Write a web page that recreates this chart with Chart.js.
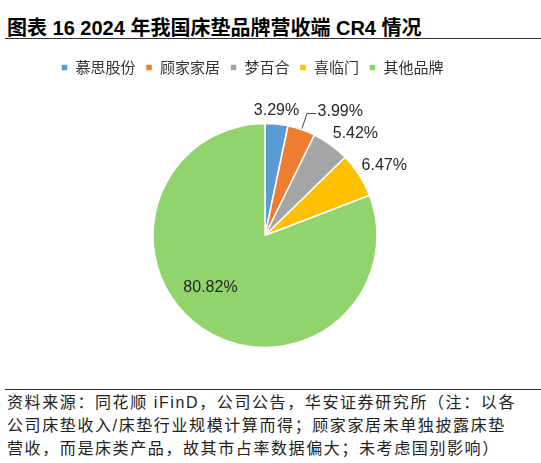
<!DOCTYPE html>
<html lang="zh">
<head>
    <meta charset="UTF-8">
    <title>2024 年我国床垫品牌营收端 CR4 情况</title>
    <script src="https://cdn.jsdelivr.net/npm/chart.js"></script>
    <style>
        body {
            margin: 0;
            width: 541px;
            height: 463px;
            position: relative;
            overflow: hidden;
            background: #ffffff;
            font-family: "Liberation Sans", "Noto Sans CJK SC", sans-serif;
        }
        .title {
            position: absolute;
            left: 7px;
            top: 12px;
            font-size: 20px;
            font-weight: bold;
            color: #000;
            white-space: nowrap;
        }
        .rule-top {
            position: absolute;
            left: 5px;
            right: 0;
            top: 38px;
            border-top: 1.5px solid #333;
        }
        .chart-box {
            position: absolute;
            left: 0;
            top: 49.5px;
            width: 479px;
            height: 336px;
        }
        .rule-bottom {
            position: absolute;
            left: 5px;
            right: 0;
            top: 389px;
            border-top: 1px solid #333;
        }
        .source {
            position: absolute;
            left: 7px;
            top: 391px;
            font-size: 16px;
            line-height: 23px;
            letter-spacing: 1.6px;
            color: #222;
            white-space: pre;
        }
    </style>
</head>
<body>
    <div class="title">图表 16 2024 年我国床垫品牌营收端 CR4 情况</div>
    <div class="rule-top"></div>

    <div class="chart-box">
        <canvas id="cr4Chart"></canvas>
    </div>

    <div class="rule-bottom"></div>
    <div class="source">资料来源：同花顺 iFinD，公司公告，华安证券研究所（注：以各
公司床垫收入/床垫行业规模计算而得；顾家家居未单独披露床垫
营收，而是床类产品，故其市占率数据偏大；未考虑国别影响）</div>

    <script>
        // données
        const brands = ['慕思股份', '顾家家居', '梦百合', '喜临门', '其他品牌'];
        const shares = [3.29, 3.99, 5.42, 6.47, 80.82];

        const sliceColors = ['#5B9BD5', '#ED7D31', '#A5A5A5', '#FFC000', '#91D46C'];

        // where each % label sits: distance past the rim, then a small nudge (baseline)
        const labelPlace = [
            { r: 9, dx: -1, dy: 0 },
            { r: 17, dx: 0, dy: 0, leader: true },
            { r: 13, dx: 17, dy: 4 },
            { r: 13, dx: 14, dy: 2 },
            { r: -44, dx: -16, dy: 0 }
        ];

        const pctLabels = {
            id: 'pctLabels',
            afterDatasetsDraw(chart) {
                const ctx = chart.ctx;
                const meta = chart.getDatasetMeta(0);
                ctx.save();
                ctx.font = '16px "Liberation Sans", Arial, sans-serif';
                ctx.fillStyle = '#262626';
                ctx.textBaseline = 'alphabetic';
                meta.data.forEach((arc, i) => {
                    const p = labelPlace[i];
                    const mid = (arc.startAngle + arc.endAngle) / 2;
                    const R = arc.outerRadius;
                    const text = shares[i].toFixed(2) + '%';
                    const ex = arc.x + Math.cos(mid) * (R + p.r);
                    const ey = arc.y + Math.sin(mid) * (R + p.r);
                    if (p.leader) {
                        const sx = arc.x + Math.cos(mid) * (R + 1);
                        const sy = arc.y + Math.sin(mid) * (R + 1);
                        ctx.strokeStyle = '#404040';
                        ctx.lineWidth = 1;
                        ctx.beginPath();
                        ctx.moveTo(sx, sy);
                        ctx.lineTo(ex, ey);
                        ctx.lineTo(ex + 9, ey);
                        ctx.stroke();
                        ctx.textAlign = 'left';
                        ctx.fillText(text, ex + 10.5, ey + 2);
                    } else {
                        ctx.textAlign = 'center';
                        ctx.fillText(text, ex + p.dx, ey + p.dy);
                    }
                });
                ctx.restore();
            }
        };

        new Chart(document.getElementById('cr4Chart'), {
            type: 'pie',
            data: {
                labels: brands,
                datasets: [{
                    data: shares,
                    backgroundColor: sliceColors,
                    borderColor: '#ffffff',
                    borderWidth: 1.5,
                    radius: 112
                }]
            },
            options: {
                responsive: true,
                maintainAspectRatio: false,
                animation: false,
                layout: {
                    padding: { top: 0, left: 51, right: 0, bottom: 0 }
                },
                plugins: {
                    legend: {
                        position: 'top',
                        align: 'start',
                        labels: {
                            boxWidth: 7,
                            boxHeight: 7,
                            padding: 10,
                            color: '#333',
                            font: { size: 15, family: '"Noto Sans CJK SC", sans-serif' }
                        }
                    },
                    tooltip: { enabled: false }
                }
            },
            plugins: [pctLabels]
        });
    </script>
</body>
</html>
